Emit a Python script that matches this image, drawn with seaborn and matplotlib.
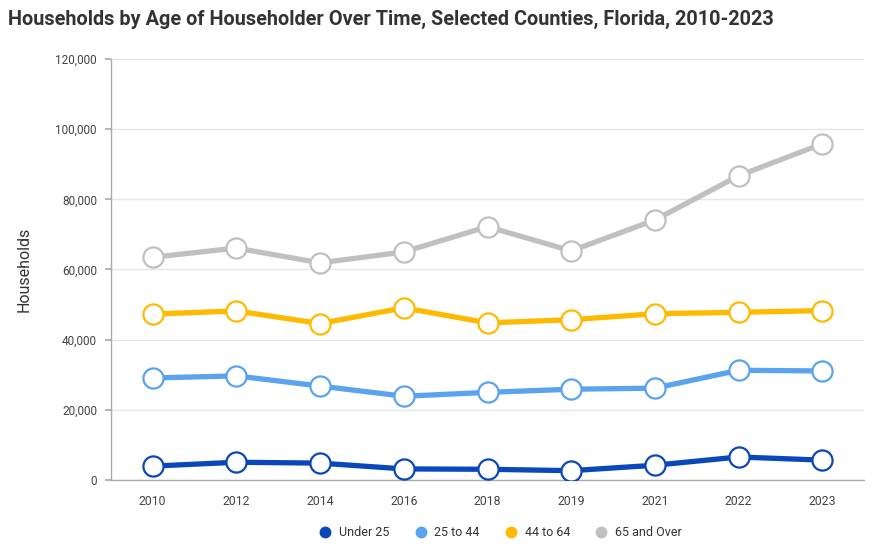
import matplotlib
matplotlib.use("Agg")
import matplotlib.pyplot as plt
import matplotlib.ticker as mticker
from matplotlib.lines import Line2D
import seaborn as sns
import pandas as pd

# Data
years = ["2010", "2012", "2014", "2016", "2018", "2019", "2021", "2022", "2023"]
under_25 = [4000, 5100, 4850, 3200, 3100, 2700, 4250, 6600, 5700]
age_25_44 = [29100, 29700, 26800, 23900, 25000, 25900, 26200, 31300, 31100]
age_44_64 = [47300, 48200, 44600, 49100, 44800, 45700, 47400, 47800, 48300]
over_65 = [63500, 66100, 61900, 65000, 72200, 65300, 74100, 86700, 95800]

series_names = ["Under 25", "25 to 44", "44 to 64", "65 and Over"]
series_values = [under_25, age_25_44, age_44_64, over_65]
colors = ["#0a47b8", "#5aa3ee", "#ffba00", "#c0c0c0"]

df = pd.DataFrame({"Year": years * 4,
                   "Households": under_25 + age_25_44 + age_44_64 + over_65,
                   "Group": [n for n in series_names for _ in years]})

sns.set_theme(style="white")
plt.rcParams['font.family'] = ['Roboto', 'DejaVu Sans']

fig = plt.figure(figsize=(8.8, 5.5), dpi=100)
ax = fig.add_axes([0.126, 0.127, 0.856, 0.766])

for name, color in zip(series_names, colors):
    sub = df[df["Group"] == name]
    sns.lineplot(data=sub, x="Year", y="Households", ax=ax, color=color,
                 linewidth=3.8, marker="o", markersize=14.5,
                 markerfacecolor="white", markeredgecolor=color,
                 markeredgewidth=1.6, sort=False, zorder=3)

ax.set_ylim(0, 120000)
ax.set_xlim(-0.5, len(years) - 0.5)
ax.yaxis.set_major_locator(mticker.MultipleLocator(20000))
ax.yaxis.set_major_formatter(mticker.FuncFormatter(lambda v, p: f"{int(v):,}"))
ax.grid(axis="y", color="#e6e6e6", linewidth=1)
ax.set_axisbelow(True)

for s in ["top", "right"]:
    ax.spines[s].set_visible(False)
for s in ["left", "bottom"]:
    ax.spines[s].set_color("#aaaaaa")
    ax.spines[s].set_linewidth(1)

ax.tick_params(axis="y", left=True, length=4, color="#aaaaaa", labelsize=8.5,
               labelcolor="#444444", pad=6)
ax.tick_params(axis="x", bottom=False, labelsize=8.8, labelcolor="#444444", pad=5)
ax.set_xlabel("")
ax.set_ylabel("Households", fontsize=11.5, color="#333333", labelpad=17)

fig.text(0.009, 0.965, "Households by Age of Householder Over Time, Selected Counties, Florida, 2010-2023",
         fontsize=14.3, fontweight="bold", color="#333333", va="center", ha="left")

handles = [Line2D([0], [0], marker="o", linestyle="", markersize=7.5,
                  markerfacecolor=c, markeredgecolor=c) for c in colors]
fig.legend(handles, series_names, loc="center", bbox_to_anchor=(0.565, 0.032),
           ncol=4, frameon=False, fontsize=9, handletextpad=0.1,
           columnspacing=1.5, labelcolor="#333333")

fig.savefig("out.png", dpi=100)
